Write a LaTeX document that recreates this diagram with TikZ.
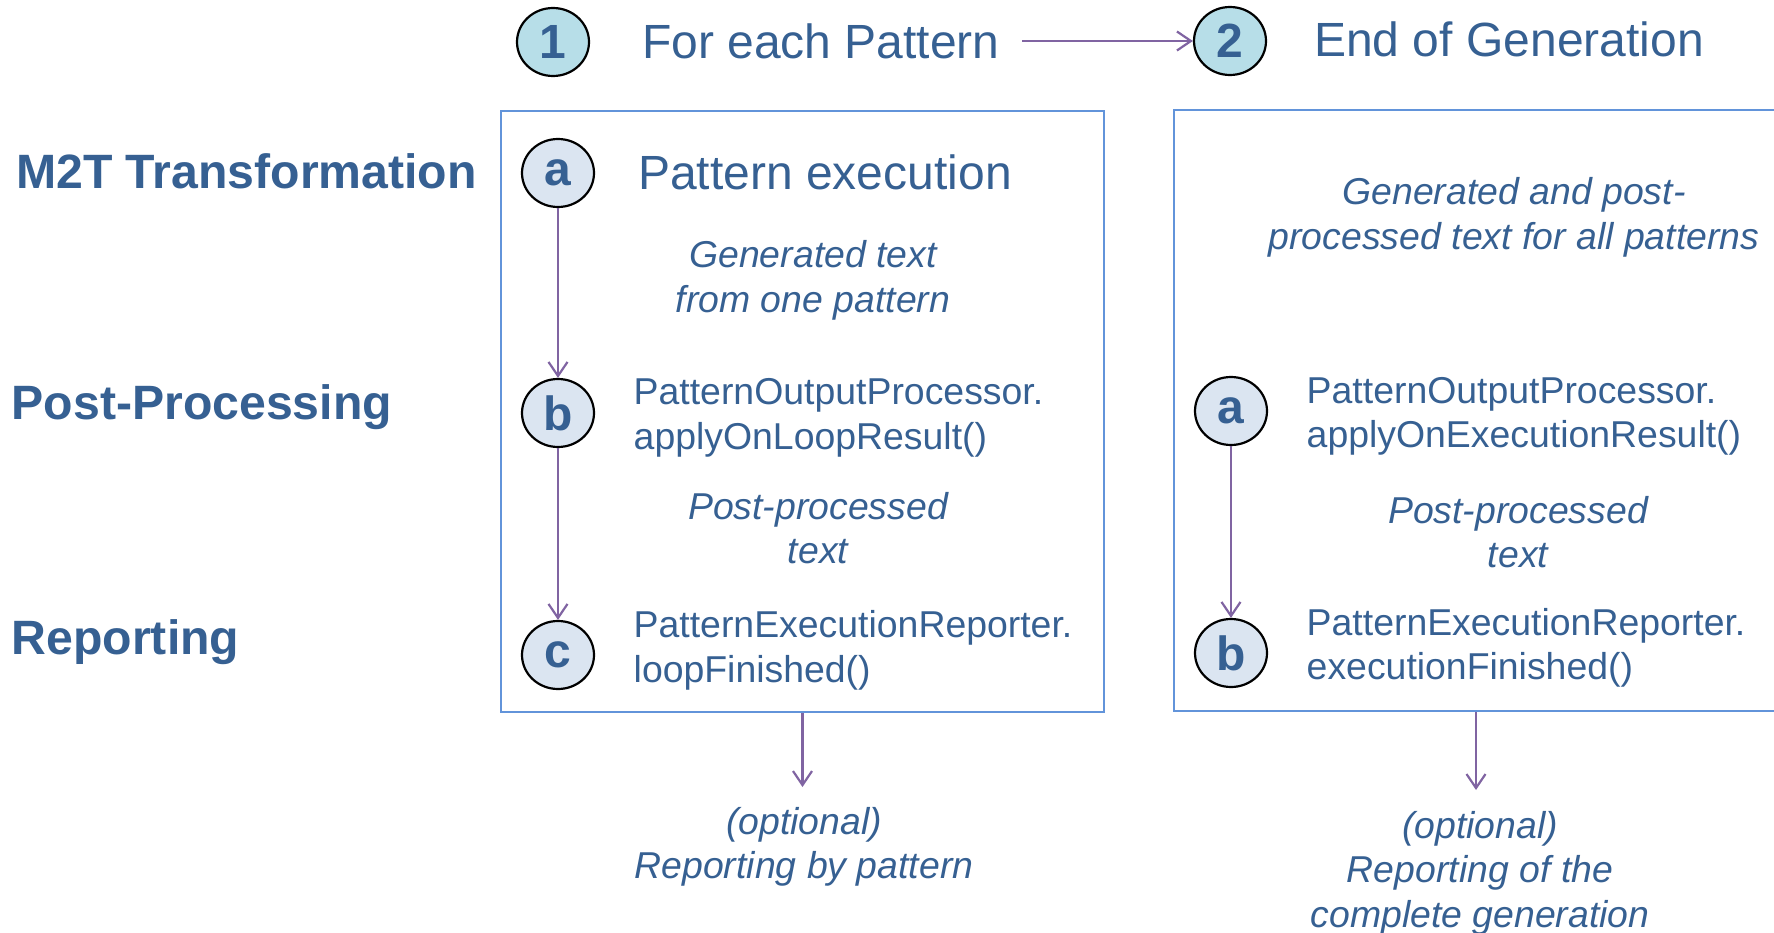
\documentclass[tikz,border=0pt]{standalone}
\usepackage{fontspec}
\setmainfont{Liberation Sans}
\usetikzlibrary{arrows.meta,shapes.geometric}

\definecolor{txtblue}{RGB}{54,96,146}
\definecolor{numfill}{RGB}{183,222,232}
\definecolor{stepfill}{RGB}{219,229,241}
\definecolor{boxline}{RGB}{98,148,218}
\definecolor{flowline}{RGB}{128,100,162}

% multi-line text blocks whose baseline is the first line's
\newcommand{\linesc}[1]{\begin{tabular}[t]{@{}c@{}}#1\end{tabular}}
\newcommand{\linesl}[1]{\begin{tabular}[t]{@{}l@{}}#1\end{tabular}}

\begin{document}
\begin{tikzpicture}[x=1pt,y=-1pt,
  heading/.style={font=\fontsize{48pt}{56pt}\selectfont, text=txtblue, inner sep=0pt, anchor=base west},
  rowlabel/.style={heading, font=\fontsize{48.2pt}{56pt}\selectfont\bfseries},
  method/.style={font=\fontsize{37.4pt}{44.8pt}\selectfont, text=txtblue, inner sep=0pt, anchor=base west},
  note/.style={font=\fontsize{37.4pt}{44.8pt}\selectfont\itshape, text=txtblue, inner sep=0pt, anchor=base},
  badge/.style={ellipse, draw=black, line width=2.2pt, minimum width=72pt, minimum height=68pt,
    inner sep=0pt, text=txtblue, font=\fontsize{48pt}{56pt}\selectfont\bfseries},
  numbadge/.style={badge, fill=numfill},
  stepbadge/.style={badge, fill=stepfill},
  phasebox/.style={draw=boxline, line width=2.2pt, inner sep=0pt},
  flow/.style={draw=flowline, line width=2.2pt, -{Straight Barb[length=14pt,width=19pt]}}
]
\useasboundingbox (0,0) rectangle (1774,933);

% phase boxes
\node[phasebox, minimum width=603pt, minimum height=601pt] (box1) at (802.5,411.5) {};
\node[phasebox, minimum width=604pt, minimum height=601pt] (box2) at (1476,410.5) {};

% header: the two phases
\node[numbadge] (n1) at (553,42) {1};
\node[heading] (t1) at (642,59) {For each Pattern};
\node[numbadge] (n2) at (1230,41) {2};
\node[heading] (t2) at (1314,57) {End of Generation};
\coordinate (t1out) at (1022,41);
\draw[flow] (t1out) -- (n2.west);

% row labels
\node[rowlabel] (lm2t) at (16,189) {M2T Transformation};
\node[rowlabel] (lpost) at (11.5,419) {Post-Processing};
\node[rowlabel] (lrep) at (11.5,654) {Reporting};

% phase 1: for each pattern
\node[stepbadge] (la) at (558,173) {a};
\node[heading] (lat) at (638,190) {Pattern execution};
\node[note] (lgen) at (813,268) {\linesc{Generated text\\from one pattern}};
\node[stepbadge] (lb) at (558,413) {b};
\node[method] (lbt) at (633.5,404.5) {\linesl{PatternOutputProcessor.\\applyOnLoopResult()}};
\node[note] (lpp) at (818,519) {\linesc{Post-processed\\text}};
\node[stepbadge] (lc) at (558,655) {c};
\node[method] (lct) at (633.5,637.5) {\linesl{PatternExecutionReporter.\\loopFinished()}};
\draw[flow] (la) -- (lb);
\draw[flow] (lb) -- (lc);
\coordinate (out1) at (802.5,787);
\draw[flow] (box1.south) -- (out1);
\node[note] (opt1) at (804,834) {\linesc{(optional)\\Reporting by pattern}};

% phase 2: end of generation
\node[note] (rgen) at (1514,205) {\linesc{Generated and post-\\processed text for all patterns}};
\node[stepbadge] (ra) at (1231,411) {a};
\node[method] (rat) at (1306.5,403) {\linesl{PatternOutputProcessor.\\applyOnExecutionResult()}};
\node[note] (rpp) at (1518,523) {\linesc{Post-processed\\text}};
\node[stepbadge] (rb) at (1231,653) {b};
\node[method] (rbt) at (1306.5,635) {\linesl{PatternExecutionReporter.\\executionFinished()}};
\draw[flow] (ra) -- (rb);
\coordinate (out2) at (1476,790);
\draw[flow] (box2.south) -- (out2);
\node[note] (opt2) at (1480,838) {\linesc{(optional)\\Reporting of the\\complete generation}};
\end{tikzpicture}
\end{document}
